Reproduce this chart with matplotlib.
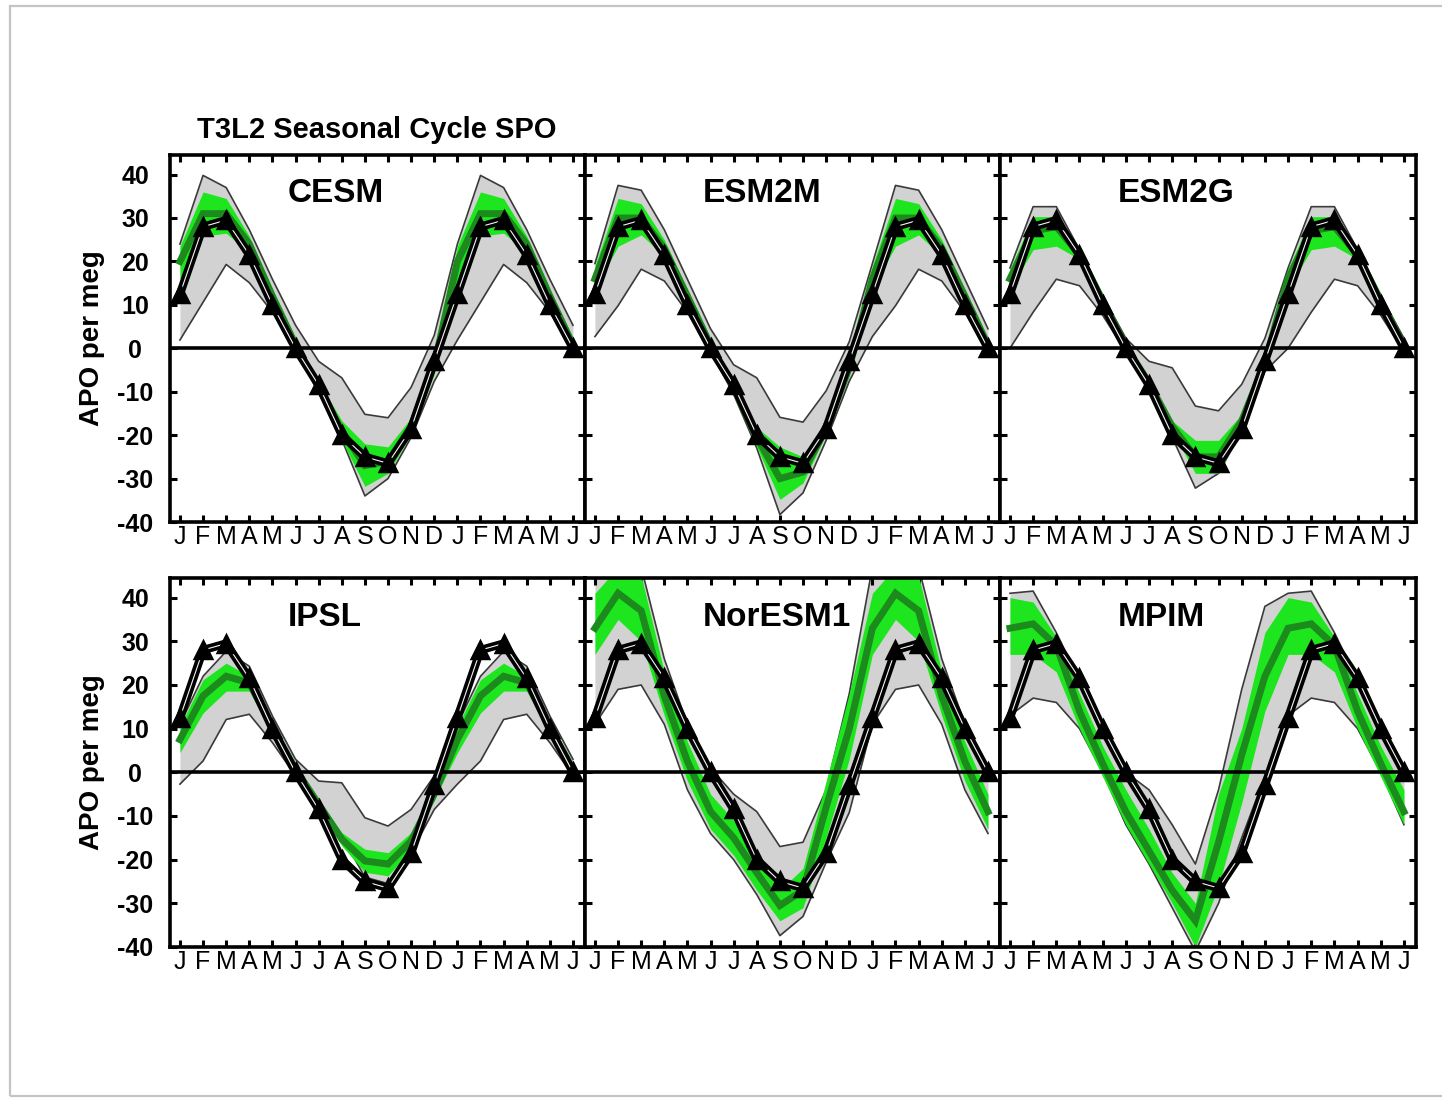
import numpy as np
import matplotlib
matplotlib.use("Agg")
import matplotlib.pyplot as plt
from matplotlib.patches import Rectangle

plt.rcParams['font.family'] = ['Liberation Sans', 'DejaVu Sans']
plt.rcParams['axes.unicode_minus'] = False

# ---------------- data (12 months J..D, the chart repeats Jan-Jun) ----------------
months = ['J', 'F', 'M', 'A', 'M', 'J', 'J', 'A', 'S', 'O', 'N', 'D',
          'J', 'F', 'M', 'A', 'M', 'J']
obs = [12.5, 28, 29.5, 21.5, 10, 0, -8.5, -20, -25, -26.5, -18.5, -3]

model_names = ['CESM', 'ESM2M', 'ESM2G', 'IPSL', 'NorESM1', 'MPIM']

cesm_gray_hi = [24, 39.8, 37, 27.3, 15.9, 5.3, -3, -6.8, -15.2, -16, -9, 3]
cesm_gray_lo = [1.9, 10.6, 19.3, 15.1, 8.3, 0, -9, -21, -34, -30, -20.5, -7.6]
cesm_green_hi = [23.5, 36, 34.5, 25.8, 13.6, 2.3, -7.6, -16.7, -22, -22.7, -16, -1.5]
cesm_green_lo = [15.9, 25.8, 26.5, 22, 10.6, -0.8, -10.6, -21.2, -31.8, -28.8, -19.7, -6]
cesm_green_mid = [20, 31, 31, 24, 12, 0.8, -9, -19, -27, -26, -18, -3.8]

esm2m_gray_hi = [19.5, 37.5, 36.4, 27.3, 15.9, 4.5, -3.8, -6.8, -15.9, -17, -9.8, 1.5]
esm2m_gray_lo = [2.7, 9.8, 18.2, 15.5, 8.3, -0.8, -10.6, -23, -38.3, -33.3, -21.2, -7.6]
esm2m_green_hi = [19, 34.5, 33.3, 25, 13.6, 2.3, -7.6, -18.2, -22.7, -25, -17.4, -3]
esm2m_green_lo = [13.6, 23.5, 26.1, 21.2, 10.6, -0.8, -10.6, -22.7, -34.8, -31, -19.7, -6]
esm2m_green_mid = [16, 30, 30, 23, 12, 0.7, -9, -20.5, -30, -28.5, -18.5, -4.5]

esm2g_gray_hi = [18.5, 32.6, 32.6, 22.7, 12.1, 2.3, -3, -4.5, -13.3, -14.4, -8.3, 2.3]
esm2g_gray_lo = [0, 8.3, 15.9, 14.4, 7.6, -0.8, -9, -20.5, -32.2, -28.8, -19, -5.3]
esm2g_green_hi = [18.2, 30.3, 30.3, 22.7, 12.1, 1.5, -6.8, -16.7, -21.2, -21.2, -15.2, -2.3]
esm2g_green_lo = [13.6, 22.7, 23.5, 20.5, 10, -0.8, -9, -19, -28.8, -28.8, -18.2, -4.5]
esm2g_green_mid = [16, 27, 28, 21.5, 11, 0.4, -8, -18, -25, -25, -16.7, -3.4]

ipsl_gray_hi = [11, 22, 27.7, 24.3, 12.9, 3, -2, -2.4, -10.4, -12.3, -8.5, -0.8]
ipsl_gray_lo = [-2.7, 2.6, 12.1, 13.3, 6.8, -0.8, -6.9, -14.6, -24, -25.5, -18.4, -8.5]
ipsl_green_hi = [10.6, 21.2, 25, 22, 11.4, 1.5, -6.2, -13.8, -17.6, -18.4, -13.8, -3.9]
ipsl_green_lo = [4.5, 13.6, 18.6, 18.6, 9, -0.1, -8.5, -16.8, -22.9, -23.7, -17.6, -6.2]
ipsl_green_mid = [7.5, 17.5, 22, 20.5, 10.2, 0.7, -7.3, -15.3, -20.3, -21, -15.7, -5]

noresm_gray_hi = [47, 52, 47, 26, 11, 1, -5, -9, -17, -16, -4, 18]
noresm_gray_lo = [11, 19, 20, 11, -4, -14, -20, -28, -37.4, -33, -20.6, -9.2]
noresm_green_hi = [41, 47, 45, 23, 7, -5, -11, -19, -27, -22, -2, 18]
noresm_green_lo = [27, 35, 30, 13, -2, -13, -19, -27, -34, -31, -15, 3]
noresm_green_mid = [33, 41, 37, 17.5, 2.5, -9, -15, -23, -30.5, -27, -8, 10]

mpim_gray_hi = [41, 41.5, 32, 21, 10, 0, -4, -12, -21, -4, 19, 38]
mpim_gray_lo = [13, 17, 16, 10, 0, -12, -21, -31, -41, -30, -15, -1]
mpim_green_hi = [40, 39, 31, 18, 6, -4, -13, -23, -30, -5, 10, 32]
mpim_green_lo = [27, 27, 23, 10, -1, -12, -21, -30, -40, -26, -7, 14]
mpim_green_mid = [33, 34, 29, 14, 2, -9, -18, -27, -34, -16, 4, 22]

gray_hi = [cesm_gray_hi, esm2m_gray_hi, esm2g_gray_hi, ipsl_gray_hi, noresm_gray_hi, mpim_gray_hi]
gray_lo = [cesm_gray_lo, esm2m_gray_lo, esm2g_gray_lo, ipsl_gray_lo, noresm_gray_lo, mpim_gray_lo]
green_hi = [cesm_green_hi, esm2m_green_hi, esm2g_green_hi, ipsl_green_hi, noresm_green_hi, mpim_green_hi]
green_lo = [cesm_green_lo, esm2m_green_lo, esm2g_green_lo, ipsl_green_lo, noresm_green_lo, mpim_green_lo]
green_mid = [cesm_green_mid, esm2m_green_mid, esm2g_green_mid, ipsl_green_mid, noresm_green_mid, mpim_green_mid]

yticks = [40, 30, 20, 10, 0, -10, -20, -30, -40]


def cyc(a):
    a = list(a)
    return np.array(a + a[:6], dtype=float)


# ---------------- figure ----------------
W, H = 1442, 1100
fig = plt.figure(figsize=(W / 100, H / 100), dpi=100)

# slide-like border
fig.patches.append(Rectangle((10 / W, 1 - 1096 / H), 1.2, (1096 - 6) / H,
                             transform=fig.transFigure, fill=False,
                             edgecolor='#c4c4c4', lw=1.6, zorder=0))

col_left = [170, 585, 1000]
col_w = [415, 415, 416]
row_top = [155, 578]
row_h = [367, 369]

GRAY = '#d2d2d2'
BRIGHT = '#1ee61e'
DARK = '#1c8a1c'

x = np.arange(18)
ob = cyc(obs)

for k, name in enumerate(model_names):
    r, c = divmod(k, 3)
    ax = fig.add_axes([col_left[c] / W, 1 - (row_top[r] + row_h[r]) / H,
                       col_w[c] / W, row_h[r] / H])
    ghi, glo = cyc(gray_hi[k]), cyc(gray_lo[k])
    ax.fill_between(x, glo, ghi, color=GRAY, lw=0, zorder=1)
    ax.plot(x, ghi, color='#3a3a3a', lw=1.2, zorder=2)
    ax.plot(x, glo, color='#3a3a3a', lw=1.2, zorder=2)
    ax.fill_between(x, cyc(green_lo[k]), cyc(green_hi[k]), color=BRIGHT, lw=0, zorder=3)
    ax.plot(x, cyc(green_mid[k]), color=DARK, lw=5, zorder=3.5, solid_joinstyle='miter')
    ax.axhline(0, color='k', lw=2.6, zorder=4)
    ax.plot(x, ob, color='k', lw=6, zorder=5)
    ax.plot(x, ob, color='#f4f4f4', lw=0.8, zorder=6)
    ax.plot(x, ob, ls='none', marker='^', ms=11, mfc='k', mec='k', mew=2.5, zorder=7)

    ax.set_xlim(-0.43, 17.52)
    ax.set_ylim(-40, 44.5)
    ax.set_xticks(x)
    ax.set_xticklabels(months, fontsize=18)
    ax.set_yticks(yticks)
    if c == 0:
        ax.set_yticklabels([str(v) for v in yticks], fontsize=18, fontweight='bold',
                           ha='center')
        fig.text(92 / W, 1 - (row_top[r] + row_h[r] / 2) / H, 'APO per meg',
                 fontsize=20, fontweight='bold', rotation=90, ha='center', va='center')
    else:
        ax.set_yticklabels([])
    ax.tick_params(axis='both', direction='in', length=5, width=2.2,
                   top=True, right=True)
    ax.tick_params(axis='x', pad=2)
    ax.tick_params(axis='y', pad=25)
    for s in ax.spines.values():
        s.set_linewidth(2.6)
        s.set_zorder(10)
    ax.text(0.283, 0.894, name, transform=ax.transAxes, fontsize=24,
            fontweight='bold', ha='left', va='center', zorder=8)

fig.text(197 / W, 1 - 130 / H, 'T3L2 Seasonal Cycle SPO', fontsize=21,
         fontweight='bold', ha='left', va='center')

fig.savefig('out.png', dpi=100)
